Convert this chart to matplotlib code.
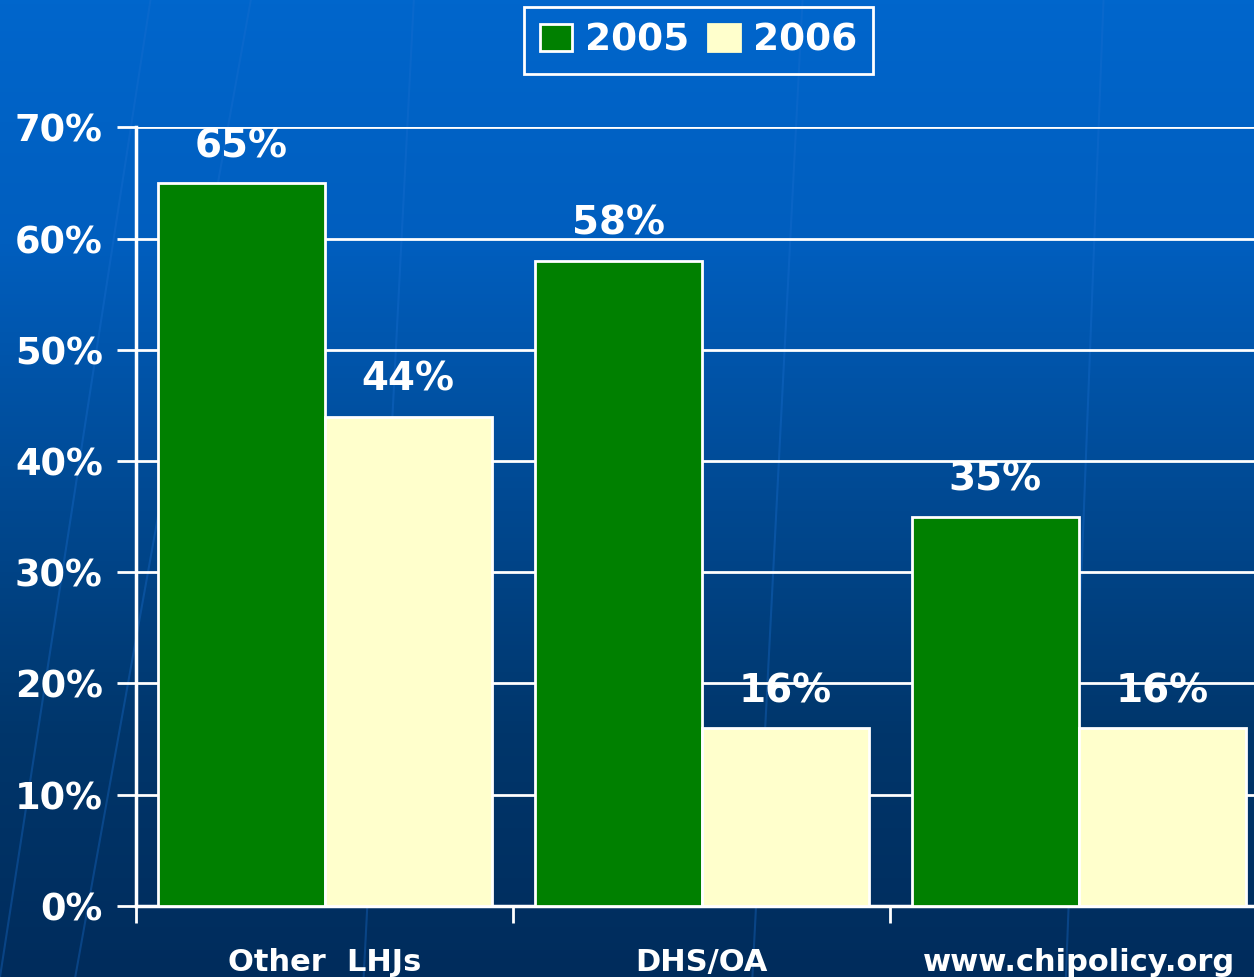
import numpy as np
import matplotlib.pyplot as plt
from matplotlib.colors import LinearSegmentedColormap
from matplotlib.patches import Patch

categories = ["Other  LHJs", "DHS/OA", "www.chipolicy.org"]
years = ["2005", "2006"]
vals_2005 = [65, 58, 35]
vals_2006 = [44, 16, 16]
yticks = [0, 10, 20, 30, 40, 50, 60, 70]

green = "#008000"
cream = "#FFFFCC"

plt.rcParams["font.family"] = ["DejaVu Sans"]
plt.rcParams["font.weight"] = "bold"

fig = plt.figure(figsize=(12.54, 9.77), dpi=100)

# background gradient
bg = fig.add_axes([0, 0, 1, 1], zorder=-10)
cmap = LinearSegmentedColormap.from_list(
    "bgblue", ["#0066CC", "#005EBE", "#004A94", "#00366B", "#002C5C"])
grad = np.linspace(0, 1, 256).reshape(-1, 1)
bg.imshow(grad, aspect="auto", cmap=cmap, extent=[0, 1, 0, 1], origin="upper")
# faint decorative streaks
for x0, x1 in [(0.0, 0.12), (0.29, 0.33), (0.6, 0.64), (0.85, 0.88), (0.06, 0.2)]:
    bg.plot([x0, x1], [0.0, 1.0], color="#1A6FD0", lw=1.5, alpha=0.35)
bg.set_xlim(0, 1)
bg.set_ylim(0, 1)
bg.axis("off")

ax = fig.add_axes([0.1085, 0.0727, 0.902, 0.797])
ax.set_facecolor("none")

x = np.arange(len(categories)) + 0.5
w = 0.443
b1 = ax.bar(x - w / 2, vals_2005, w, color=green, edgecolor="white", lw=2, zorder=3)
b2 = ax.bar(x + w / 2, vals_2006, w, color=cream, edgecolor="white", lw=2, zorder=3)

# value labels sit under the gridlines, as in the original slide
for bars, vals in [(b1, vals_2005), (b2, vals_2006)]:
    for r, v in zip(bars, vals):
        ax.text(r.get_x() + r.get_width() / 2, v + 1.6, f"{v}%", ha="center",
                va="bottom", color="white", fontsize=28, fontweight="bold", zorder=0.4)

ax.set_xlim(0, 3)
ax.set_ylim(0, 70)
ax.set_yticks(yticks)
ax.set_yticklabels([f"{t}%" for t in yticks])
ax.yaxis.grid(True, color="white", lw=2)
ax.set_axisbelow(True)

ax.set_xticks([0, 1, 2, 3])
ax.set_xticklabels([])
ax.set_xticks(x, minor=True)
ax.set_xticklabels(categories, minor=True)
ax.tick_params(axis="x", which="major", direction="out", length=12, width=2, colors="white")
ax.tick_params(axis="x", which="minor", length=0, pad=30, labelsize=22, labelcolor="white")
ax.tick_params(axis="y", direction="out", length=14, width=2, colors="white",
               labelsize=26.5, pad=10)
for lbl in ax.get_yticklabels() + ax.get_xticklabels(minor=True):
    lbl.set_fontweight("bold")

for s in ["top", "right"]:
    ax.spines[s].set_visible(False)
for s in ["left", "bottom"]:
    ax.spines[s].set_color("white")
    ax.spines[s].set_linewidth(2.5)

handles = [Patch(facecolor=green, edgecolor="white", lw=2),
           Patch(facecolor=cream, edgecolor=cream, lw=2)]
leg = fig.legend(handles, years, loc="upper center", bbox_to_anchor=(0.557, 0.993),
                 ncol=2, frameon=True, framealpha=1, handlelength=0.85, handleheight=0.7,
                 handletextpad=0.35, columnspacing=0.5, borderpad=0.42, borderaxespad=0,
                 fancybox=False, labelcolor="white", prop={"weight": "bold", "size": 27})
leg.get_frame().set_facecolor("none")
leg.get_frame().set_edgecolor("white")
leg.get_frame().set_linewidth(2)

fig.savefig("out.png", dpi=100)
